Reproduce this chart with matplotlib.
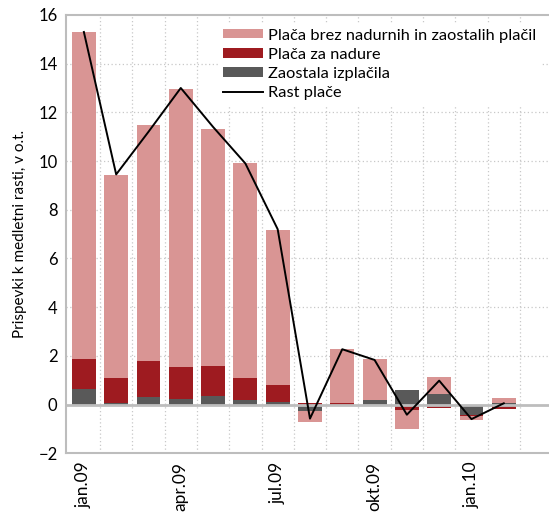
import numpy as np
import matplotlib
matplotlib.use("Agg")
import matplotlib.pyplot as plt

plt.rcParams["font.family"] = ["Lato", "DejaVu Sans"]

months = ["jan.09", "feb.09", "mar.09", "apr.09", "maj.09", "jun.09", "jul.09",
          "avg.09", "sep.09", "okt.09", "nov.09", "dec.09", "jan.10", "feb.10"]
tick_labels = {0: "jan.09", 3: "apr.09", 6: "jul.09", 9: "okt.09", 12: "jan.10"}

placa_brez = [13.4, 8.33, 9.72, 11.43, 9.75, 8.8, 6.34,
              -0.44, 2.22, 1.67, -0.78, 0.7, -0.15, 0.2]
placa_nadure = [1.23, 1.02, 1.48, 1.3, 1.22, 0.9, 0.71,
                0.05, 0.05, 0.0, -0.22, -0.14, -0.05, -0.2]
zaostala = [0.65, 0.08, 0.29, 0.23, 0.36, 0.2, 0.11,
            -0.26, 0.0, 0.18, 0.6, 0.42, -0.43, 0.05]
rast_place = [15.3, 9.45, 11.2, 13.0, 11.4, 9.9, 7.2,
              -0.58, 2.27, 1.83, -0.42, 0.98, -0.6, 0.05]

PINK = "#d99594"
RED = "#9e1b20"
GREY = "#595959"
AXIS_GREY = "#bdbdbd"

fig = plt.figure(figsize=(5.49, 5.15), dpi=100)
ax = fig.add_axes([0.120, 0.120, 0.880, 0.851])

x = np.arange(len(months))
pos_base = np.zeros(len(months))
neg_base = np.zeros(len(months))
series = [(zaostala, GREY, "Zaostala izplačila"),
          (placa_nadure, RED, "Plača za nadure"),
          (placa_brez, PINK, "Plača brez nadurnih in zaostalih plačil")]
handles = {}
for vals, color, label in series:
    vals = np.asarray(vals, dtype=float)
    base = np.where(vals >= 0, pos_base, neg_base)
    h = ax.bar(x, vals, width=0.74, bottom=base, color=color, label=label, zorder=2)
    handles[label] = h
    pos_base = pos_base + np.where(vals > 0, vals, 0)
    neg_base = neg_base + np.where(vals < 0, vals, 0)

line, = ax.plot(x, rast_place, color="black", lw=1.4, zorder=4, label="Rast plače")

ax.set_xlim(-0.557, 14.4)
ax.set_ylim(-2, 16)
ax.set_yticks(np.arange(-2, 17, 2))
ax.set_xticks(list(tick_labels.keys()))
ax.set_xticklabels(list(tick_labels.values()), rotation=90)
ax.tick_params(axis="both", length=0, pad=6)
ax.tick_params(axis="x", labelsize=12.5)
ax.tick_params(axis="y", labelsize=12)

for xv in x + 0.5:
    ax.axvline(xv, color="#c8c8c8", lw=0.9, ls=(0, (1, 2)), zorder=0)
for yv in np.arange(2, 16, 2):
    ax.axhline(yv, color="#c8c8c8", lw=0.9, ls=(0, (1, 2)), zorder=0)
ax.axhline(0, color=AXIS_GREY, lw=2, zorder=3)

for side in ["left", "bottom", "top"]:
    ax.spines[side].set_color(AXIS_GREY)
    ax.spines[side].set_linewidth(1.5)
ax.spines["right"].set_visible(False)

ax.set_ylabel("Prispevki k medletni rasti, v o.t.", fontsize=11, labelpad=8)

leg = ax.legend([handles["Plača brez nadurnih in zaostalih plačil"],
                 handles["Plača za nadure"],
                 handles["Zaostala izplačila"], line],
                ["Plača brez nadurnih in zaostalih plačil", "Plača za nadure",
                 "Zaostala izplačila", "Rast plače"],
                loc="upper left", bbox_to_anchor=(0.315, 0.980), fontsize=11.8,
                frameon=True, facecolor="white", edgecolor="none", framealpha=1,
                fancybox=False, borderpad=0.3, handlelength=2.45, handleheight=0.5,
                handletextpad=0.3, labelspacing=0.31, borderaxespad=0)
leg.set_zorder(5)

fig.savefig("out.png", dpi=100)
